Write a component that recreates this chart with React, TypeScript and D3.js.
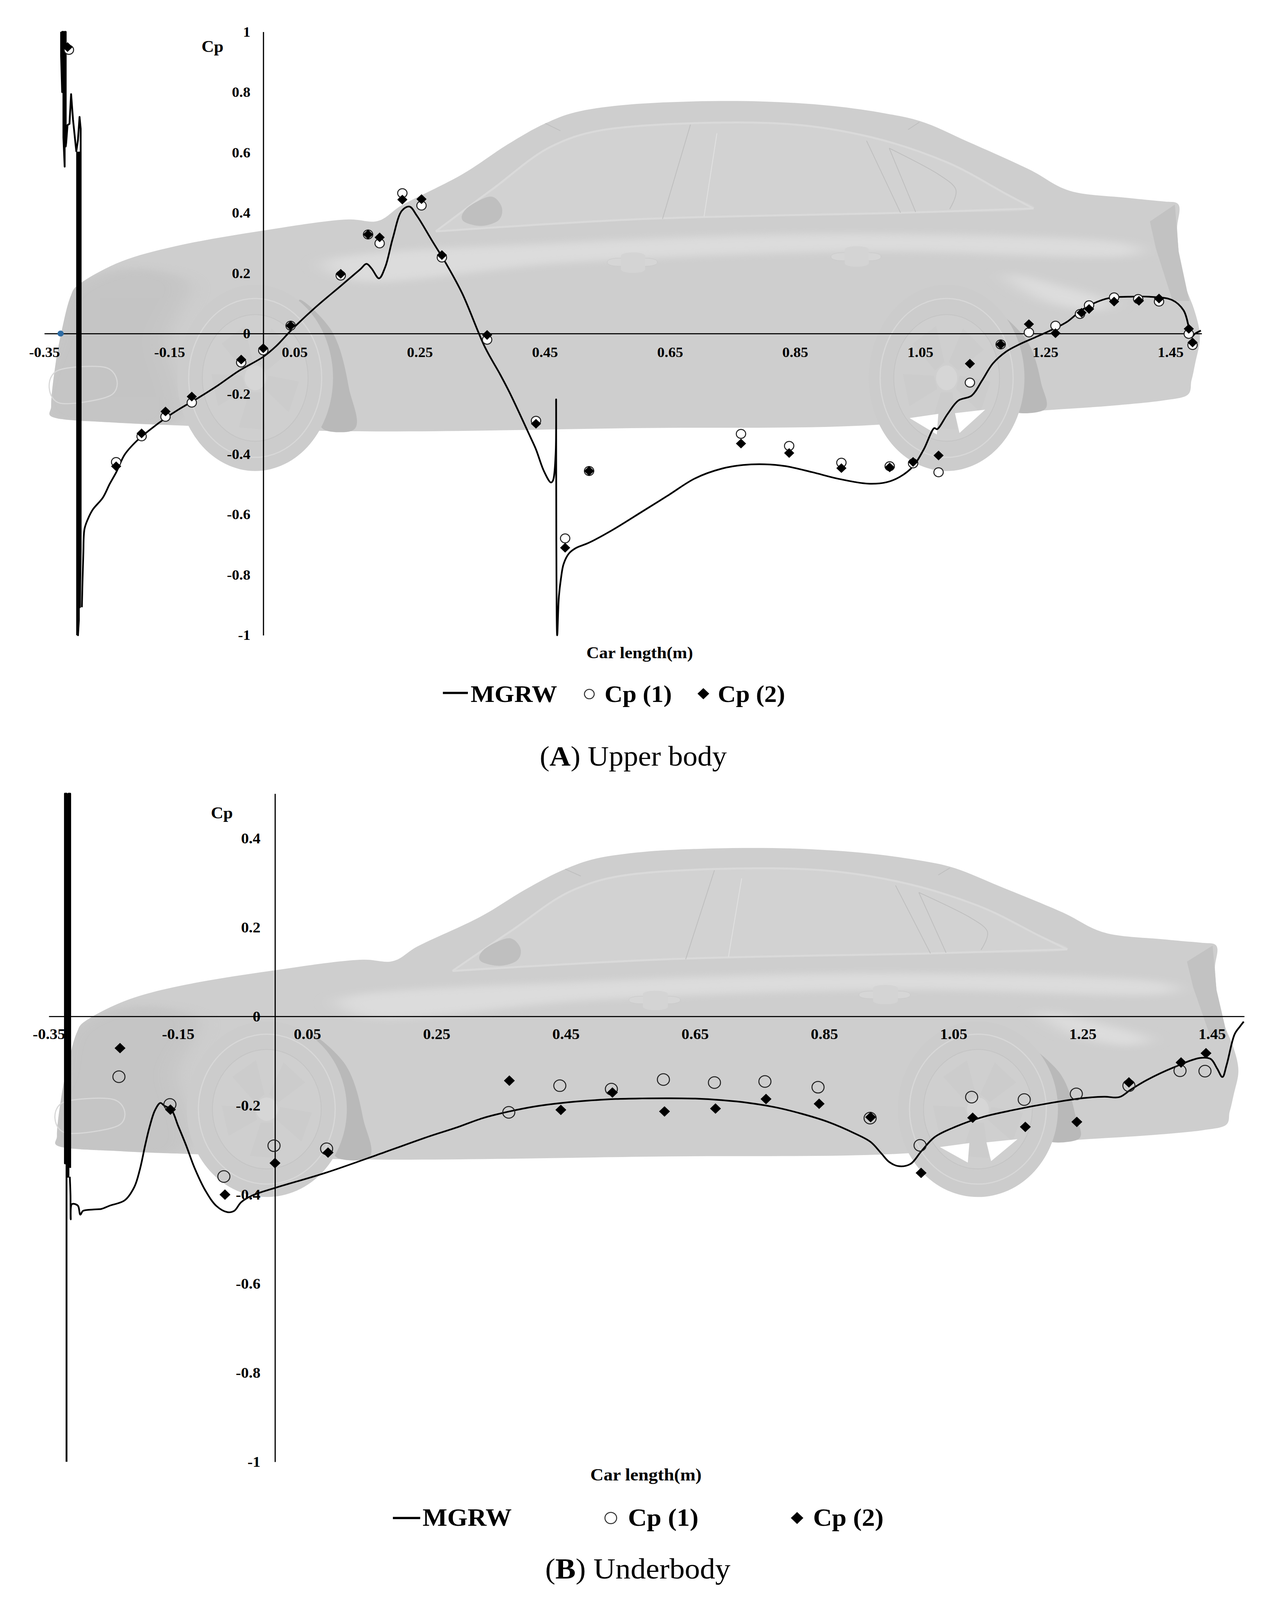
import React from 'react';
import * as d3 from 'd3';

type Pt = [number, number];

const xTicks = [-0.35, -0.15, 0.05, 0.25, 0.45, 0.65, 0.85, 1.05, 1.25, 1.45];
const yTicksA = [-1, -0.8, -0.6, -0.4, -0.2, 0, 0.2, 0.4, 0.6, 0.8, 1];
const yTicksB = [-1, -0.8, -0.6, -0.4, -0.2, 0, 0.2, 0.4];

// ---- upper body ----
// the solver output is a dense oscillation at the nose, it reads as solid bars
const noiseA: Pt[] = [
  [-0.3232, 1], [-0.3232, 0.92], [-0.3215, 0.8], [-0.3215, 1], [-0.3195, 1], [-0.3195, 0.65], [-0.3175, 0.553],
  [-0.3175, 1], [-0.3158, 1], [-0.3158, 0.62],
  [-0.3151, 0.6315], [-0.3129, 0.691], [-0.3098, 0.695], [-0.3072, 0.7936], [-0.3042, 0.71], [-0.2989, 0.604],
  [-0.2963, 0.64], [-0.2937, 0.718], [-0.2919, 0.679], [-0.2919, -0.72], [-0.2932, -0.907], [-0.2932, 0.6],
  [-0.2948, 0.6], [-0.2948, -0.95], [-0.2962, -1], [-0.2962, 0.6], [-0.2976, 0.6], [-0.2976, -1],
];
const mgrwA: Pt[] = [
  [-0.29, -0.907], [-0.2877, -0.732], [-0.2858, -0.648], [-0.2804, -0.615], [-0.2724, -0.583], [-0.2565, -0.544],
  [-0.2454, -0.498], [-0.2349, -0.459], [-0.2215, -0.401], [-0.2024, -0.356], [-0.1801, -0.317], [-0.1547, -0.278],
  [-0.1356, -0.252], [-0.1038, -0.213], [-0.0719, -0.171], [-0.0401, -0.125], [0, -0.077], [0.0204, -0.042],
  [0.0465, 0.015], [0.0827, 0.0856], [0.125, 0.16], [0.155, 0.213], [0.165, 0.231], [0.173, 0.216], [0.185, 0.183],
  [0.195, 0.221], [0.207, 0.316], [0.2215, 0.407], [0.2336, 0.421], [0.2457, 0.39], [0.2697, 0.308], [0.294, 0.2255],
  [0.318, 0.133], [0.3543, -0.045], [0.3785, -0.135], [0.3935, -0.1945], [0.4274, -0.345], [0.4359, -0.384],
  [0.4486, -0.456], [0.4597, -0.4936], [0.463, -0.4873], [0.4673, -0.4], [0.4681, -0.218], [0.4684, -0.677],
  [0.4698, -1], [0.4724, -0.875], [0.4758, -0.812], [0.48, -0.764], [0.4885, -0.729], [0.4995, -0.711],
  [0.5208, -0.693], [0.559, -0.65], [0.6057, -0.59], [0.6481, -0.535], [0.6906, -0.4795], [0.7331, -0.4476],
  [0.767, -0.4357], [0.8009, -0.4333], [0.835, -0.4396], [0.8775, -0.4595], [0.92, -0.4817], [0.9666, -0.4975],
  [0.9963, -0.4927], [1.0175, -0.475], [1.0388, -0.4398], [1.0557, -0.384], [1.0727, -0.3132], [1.0769, -0.317],
  [1.094, -0.266], [1.111, -0.222], [1.1321, -0.206], [1.1491, -0.155], [1.1661, -0.0995], [1.1873, -0.06],
  [1.2085, -0.036], [1.2339, -0.0125], [1.2594, 0.0113], [1.2849, 0.0389], [1.3061, 0.0745], [1.3273, 0.1],
  [1.3528, 0.118], [1.3823, 0.122], [1.4166, 0.122], [1.4528, 0.111], [1.471, 0.077], [1.4795, 0.02],
  [1.483, -0.013], [1.489, -0.001], [1.4987, 0.0099],
];
const cp1A: Pt[] = [
  [-0.3107, 0.94], [-0.2352, -0.4257], [-0.1945, -0.3407], [-0.1563, -0.2758], [-0.1143, -0.2291], [-0.0353, -0.096],
  [0, -0.0558], [0.0437, 0.026], [0.1238, 0.1922], [0.1675, 0.3283], [0.186, 0.299], [0.2223, 0.4653], [0.2529, 0.4241],
  [0.2855, 0.2519], [0.3578, -0.0204], [0.4359, -0.2892], [0.4825, -0.6787], [0.5208, -0.4555], [0.7636, -0.3325],
  [0.8406, -0.3722], [0.9241, -0.428], [1.0013, -0.4398], [1.0387, -0.4303], [1.0794, -0.4596], [1.1295, -0.1626],
  [1.1787, -0.036], [1.2238, 0.0037], [1.2663, 0.026], [1.3055, 0.065], [1.32, 0.0938], [1.36, 0.12], [1.3985, 0.1144],
  [1.4318, 0.106], [1.4794, -0.001], [1.4854, -0.038],
];
const cp2A: Pt[] = [
  [-0.3129, 0.9495], [-0.2352, -0.44], [-0.1945, -0.3309], [-0.1563, -0.2583], [-0.1143, -0.209], [-0.0353, -0.0863],
  [0, -0.0487], [0.0437, 0.026], [0.1238, 0.198], [0.1675, 0.3283], [0.186, 0.3188], [0.2223, 0.4439], [0.2529, 0.4455],
  [0.2855, 0.26], [0.3578, -0.0046], [0.4359, -0.299], [0.4825, -0.71], [0.5208, -0.4555], [0.7636, -0.3646],
  [0.8406, -0.396], [0.9241, -0.446], [1.0013, -0.4437], [1.0387, -0.4255], [1.0794, -0.404], [1.1295, -0.0998],
  [1.1787, -0.036], [1.2238, 0.0311], [1.2663, 0.0011], [1.308, 0.069], [1.32, 0.0815], [1.36, 0.106], [1.3997, 0.1086],
  [1.4318, 0.116], [1.4794, 0.0156], [1.4854, -0.0296],
];
const strayPointA: Pt[] = [[-0.324, 0]];

// ---- underbody ----
const noiseB: Pt[] = [
  [-0.3226, -1], [-0.3226, -0.33], [-0.3251, -0.33], [-0.3251, 0.5], [-0.3224, 0.5], [-0.3224, -0.36], [-0.3196, -0.36],
  [-0.3196, 0.5], [-0.3169, 0.5], [-0.3169, -0.34],
];
const mgrwB: Pt[] = [
  [-0.3175, -0.36], [-0.3165, -0.4], [-0.3161, -0.4558], [-0.3144, -0.4215], [-0.3089, -0.4215], [-0.3046, -0.4258],
  [-0.3012, -0.4451], [-0.297, -0.4365], [-0.2813, -0.4335], [-0.2686, -0.4322], [-0.2559, -0.425], [-0.2326, -0.413],
  [-0.2177, -0.383], [-0.2092, -0.3443], [-0.2008, -0.2886], [-0.1944, -0.25], [-0.1859, -0.2114], [-0.1774, -0.1943],
  [-0.1711, -0.2007], [-0.1605, -0.2093], [-0.1499, -0.2457], [-0.1372, -0.2907], [-0.1245, -0.34], [-0.1075, -0.3915],
  [-0.0905, -0.4258], [-0.0736, -0.4395], [-0.063, -0.4365], [-0.0524, -0.4172], [-0.0354, -0.4022], [0, -0.3851],
  [0.0791, -0.3508], [0.168, -0.3058], [0.2392, -0.2691], [0.2804, -0.2498], [0.3215, -0.2284], [0.3627, -0.2134],
  [0.4038, -0.2018], [0.445, -0.1941], [0.486, -0.189], [0.5272, -0.1855], [0.5682, -0.1842], [0.6093, -0.1838],
  [0.6505, -0.1846], [0.6915, -0.1881], [0.7326, -0.1941], [0.7739, -0.2039], [0.815, -0.2185], [0.8561, -0.237],
  [0.8972, -0.2627], [0.9218, -0.2819], [0.9384, -0.3077], [0.9506, -0.3269], [0.9654, -0.3363], [0.9835, -0.3313],
  [0.9999, -0.3034], [1.0206, -0.2712], [1.0534, -0.2476], [1.0945, -0.2262], [1.1438, -0.2099], [1.2014, -0.1941],
  [1.2508, -0.1834], [1.2836, -0.1804], [1.3067, -0.1812], [1.3248, -0.164], [1.3495, -0.1426], [1.3905, -0.1147],
  [1.4316, -0.0933], [1.448, -0.0955], [1.458, -0.117], [1.4662, -0.1362], [1.4728, -0.1084], [1.4851, -0.04],
  [1.4934, -0.0226], [1.4992, -0.0118],
];
const cp1B: Pt[] = [
  [-0.2415, -0.1355], [-0.1626, -0.1977], [-0.0791, -0.3594], [-0.0015, -0.2903], [0.0799, -0.2972], [0.3618, -0.2155],
  [0.4408, -0.1555], [0.5206, -0.1632], [0.6011, -0.1418], [0.6801, -0.1486], [0.7582, -0.1461], [0.8404, -0.159],
  [0.921, -0.2284], [0.9983, -0.2896], [1.0781, -0.1812], [1.1595, -0.1868], [1.2401, -0.1739], [1.3215, -0.1555],
  [1.4006, -0.122], [1.4392, -0.1229],
];
const cp2B: Pt[] = [
  [-0.2398, -0.0712], [-0.1618, -0.2093], [-0.0774, -0.4001], [0, -0.3293], [0.0821, -0.3057], [0.3627, -0.1443],
  [0.4424, -0.2099], [0.5222, -0.1709], [0.6028, -0.2134], [0.6817, -0.2069], [0.7599, -0.1855], [0.8421, -0.1962],
  [0.9218, -0.2262], [0.9999, -0.3514], [1.0797, -0.2275], [1.1612, -0.2481], [1.2409, -0.2369], [1.3215, -0.1482],
  [1.4022, -0.1035], [1.4408, -0.0826],
];

const SERIF = '"Liberation Serif", "Times New Roman", serif';
const fmt = (d: d3.NumberValue) => String(+(+d).toFixed(2));
const diamond = (h: number) => `M0,${-h}L${h},0L0,${h}L${-h},0Z`;

const smooth = d3.line<Pt>().curve(d3.curveCatmullRom.alpha(0.5));
const closed = d3.line<Pt>().curve(d3.curveCatmullRomClosed.alpha(0.5));
const straight = d3.line<Pt>();

// car silhouette, in its own drawing units, same picture behind both charts
const bodyOutline: Pt[] = [
  [18, 1318], [16, 1275], [22, 1100], [30, 970], [42, 830], [50, 790], [110, 690], [180, 630], [290, 570], [410, 522],
  [445, 530], [480, 465], [560, 340], [620, 220], [670, 135], [710, 90], [770, 62], [860, 47], [960, 47], [1050, 65],
  [1120, 95], [1165, 125], [1230, 210], [1310, 320], [1368, 410], [1440, 435], [1490, 450], [1505, 455], [1506, 560],
  [1510, 700], [1518, 800], [1528, 880], [1535, 960], [1536, 1010], [1530, 1100],
  [1525, 1170], [1518, 1232], [1490, 1250], [1420, 1272], [1325, 1292], [1090, 1352], [800, 1362], [412, 1375],
  [190, 1352], [100, 1340],
];

function Wheel({ cx, cutouts }: { cx: number; cutouts?: boolean }) {
  const cy = 1160;
  const spokes = [0, 72, 144, 216, 288];
  return (
    <g>
      <ellipse cx={cx} cy={cy} rx={103} ry={375} fill="#cccccc" />
      <ellipse cx={cx} cy={cy} rx={88} ry={320} fill="none" stroke="#d8d8d8" strokeWidth={3} vectorEffect="non-scaling-stroke" />
      <ellipse cx={cx} cy={cy} rx={70} ry={255} fill="#cfcfcf" stroke="#c4c4c4" strokeWidth={2} vectorEffect="non-scaling-stroke" />
      {spokes.map((a) => {
        const r = (d: number) => ((a + d) * Math.PI) / 180;
        const p = (rad: number, rr: number): Pt => [cx + Math.sin(rad) * rr * 58, cy - Math.cos(rad) * rr * 215];
        return (
          <path key={a} d={straight([p(r(10), 0.3), p(r(22), 1), p(r(58), 1), p(r(62), 0.3)]) + 'Z'}
            fill="#c8c8c8" opacity={0.45} />
        );
      })}
      {cutouts && (
        <>
          <path d={straight([[1152, 1322], [1190, 1305], [1188, 1388]]) + 'Z'} fill="#fff" />
          <path d={straight([[1212, 1302], [1252, 1288], [1218, 1382]]) + 'Z'} fill="#fff" />
        </>
      )}
      <ellipse cx={cx} cy={cy} rx={14} ry={50} fill="#d6d6d6" />
    </g>
  );
}

function Car({ tx, ty, sx, sy }: { tx: number; ty: number; sx: number; sy: number }) {
  const seam = { fill: 'none', stroke: '#bebebe', strokeWidth: 2, vectorEffect: 'non-scaling-stroke' } as const;
  const glow = { fill: 'none', stroke: '#dadada', strokeWidth: 5, vectorEffect: 'non-scaling-stroke' } as const;
  return (
    <g transform={`translate(${tx},${ty}) scale(${sx},${sy})`}>
      <path d={closed(bodyOutline) as string} fill="#cecece" />
      <g clipPath="url(#carBody)">
        {/* nose shading */}
        <path d={closed([[10, 1330], [15, 1000], [40, 800], [120, 720], [190, 760], [170, 1000], [170, 1350]]) as string} fill="#bcbcbc" opacity={0.5} filter="url(#soft)" />
        {/* shoulder and quarter highlights */}
        <path d={closed([[380, 690], [700, 615], [1100, 580], [1450, 625], [1450, 665], [1100, 650], [700, 695], [420, 770]]) as string} fill="#dcdcdc" filter="url(#soft)" />
        <path d={closed([[1280, 740], [1330, 850], [1400, 890], [1420, 860], [1340, 780]]) as string} fill="#dddddd" filter="url(#soft)" />
      </g>
      <path d={straight([[1470, 530], [1503, 462], [1508, 650], [1522, 850], [1500, 850], [1478, 640]]) + 'Z'} fill="#c2c2c2" />
      {/* glasshouse */}
      <path d={smooth([[530, 565], [600, 400], [680, 225], [740, 165], [860, 135], [1000, 140], [1100, 190], [1200, 290], [1280, 420], [1316, 478], [1140, 495], [800, 520], [530, 565]]) as string} fill="#d2d2d2" />
      <path d={smooth([[525, 570], [600, 400], [680, 225], [740, 165], [860, 135], [1000, 140], [1100, 190], [1200, 290], [1280, 420], [1316, 478]]) as string} {...glow} />
      <path d={smooth([[525, 570], [800, 520], [1140, 495], [1316, 478]]) as string} {...glow} />
      <path d={smooth([[670, 135], [690, 165]]) as string} {...seam} />
      <path d={smooth([[1165, 130], [1150, 160]]) as string} {...seam} />
      <path d={smooth([[862, 140], [825, 520]]) as string} {...seam} />
      <path d={smooth([[897, 175], [880, 510]]) as string} fill="none" stroke="#e2e2e2" strokeWidth={2} vectorEffect="non-scaling-stroke" />
      <path d={smooth([[1095, 205], [1140, 495]]) as string} {...seam} />
      <path d={smooth([[1125, 235], [1160, 492]]) as string} {...seam} />
      <path d={smooth([[1125, 235], [1190, 340], [1213, 400], [1205, 480]]) as string} {...seam} />
      {/* mirror */}
      <path d={closed([[598, 430], [612, 470], [606, 530], [585, 548], [562, 530], [565, 480]]) as string} fill="#bfbfbf" />
      {/* door handles */}
      <rect x={752} y={678} width={66} height={32} rx={14} fill="#d6d6d6" stroke="#c8c8c8" vectorEffect="non-scaling-stroke" />
      <rect x={770} y={655} width={32} height={82} rx={14} fill="#d4d4d4" />
      <rect x={1048} y={656} width={66} height={32} rx={14} fill="#d6d6d6" stroke="#c8c8c8" vectorEffect="non-scaling-stroke" />
      <rect x={1066} y={630} width={32} height={82} rx={14} fill="#d4d4d4" />
      {/* fog lamp surround */}
      <path d={closed([[25, 1130], [88, 1118], [95, 1230], [28, 1262]]) as string} fill="none" stroke="#d8d8d8" strokeWidth={3} vectorEffect="non-scaling-stroke" />
      {/* wheel arches */}
      <path d={closed([[345, 845], [385, 960], [410, 1200], [413, 1374], [380, 1372], [372, 1100]]) as string} fill="#b9b9b9" />
      <path d={closed([[1265, 890], [1305, 1000], [1326, 1180], [1328, 1292], [1295, 1300], [1290, 1100]]) as string} fill="#b9b9b9" />
      <Wheel cx={286} />
      <Wheel cx={1201} cutouts />
    </g>
  );
}

interface PanelProps {
  x: d3.ScaleLinear<number, number>;
  y: d3.ScaleLinear<number, number>;
  yTicks: number[];
  xPadding: number;
  yPadding: number;
  fontSize: number;
  noise: Pt[];
  mgrw: Pt[];
  cp1: Pt[];
  cp2: Pt[];
  circleR: number;
  diamondH: number;
  circleFill: string;
}

function Panel({ x, y, yTicks, xPadding, yPadding, fontSize, noise, mgrw, cp1, cp2, circleR, diamondH, circleFill }: PanelProps) {
  const axisStyle = (g: d3.Selection<SVGGElement, unknown, null, undefined>) => {
    g.attr('font-family', SERIF).attr('font-size', fontSize).attr('font-weight', 700);
    g.selectAll('text').attr('fill', '#000');
    g.select('.domain').attr('stroke', '#000').attr('stroke-width', 3);
  };
  const getXAxis = (ref: SVGGElement | null) => {
    if (!ref) return;
    const g = d3.select(ref);
    g.call(d3.axisBottom(x).tickValues(xTicks).tickSize(0).tickPadding(xPadding).tickFormat(fmt));
    axisStyle(g);
  };
  const getYAxis = (ref: SVGGElement | null) => {
    if (!ref) return;
    const g = d3.select(ref);
    g.call(d3.axisLeft(y).tickValues(yTicks).tickSize(0).tickPadding(yPadding).tickFormat(fmt));
    axisStyle(g);
  };
  const toPx = (p: Pt): Pt => [x(p[0]), y(p[1])];
  return (
    <g>
      <g transform={`translate(0,${y(0)})`} ref={getXAxis}></g>
      <g transform={`translate(${x(0)},0)`} ref={getYAxis}></g>
      <path d={straight(noise.map(toPx)) as string} fill="none" stroke="#000" strokeWidth={4.6} strokeLinejoin="round" />
      <path d={smooth(mgrw.map(toPx)) as string} fill="none" stroke="#000" strokeWidth={4.4} strokeLinejoin="round" />
      {cp1.map((p, i) => (
        <circle key={i} cx={x(p[0])} cy={y(p[1])} r={circleR} fill={circleFill} stroke="#222" strokeWidth={2.6} />
      ))}
      {cp2.map((p, i) => (
        <path key={i} transform={`translate(${x(p[0])},${y(p[1])})`} d={diamond(diamondH)} fill="#000" />
      ))}
    </g>
  );
}

export default function App() {
  const xA = d3.scaleLinear().domain([-0.35, 1.5]).range([113.5, 3077]);
  const yA = d3.scaleLinear().domain([-1, 1]).range([1697, 85]);
  const xB = d3.scaleLinear().domain([-0.35, 1.5]).range([125, 3186]);
  const yB = d3.scaleLinear().domain([-1, 0.5]).range([3905, 2120]);
  const bold = { fontFamily: SERIF, fontWeight: 700 } as const;

  return (
    <svg viewBox="0 0 3234 4274" preserveAspectRatio="none"
      style={{ position: 'fixed', left: 0, top: 0, width: '100vw', height: '100vh', background: '#fff' }}>
      <defs>
        <filter id="soft" x="-20%" y="-20%" width="140%" height="140%">
          <feGaussianBlur stdDeviation="14" />
        </filter>
        <clipPath id="carBody">
          <path d={closed(bodyOutline) as string} />
        </clipPath>
      </defs>

      <Car tx={100} ty={240} sx={1.935} sy={0.6633} />
      <Panel x={xA} y={yA} yTicks={yTicksA} xPadding={36} yPadding={33} fontSize={38}
        noise={noiseA} mgrw={mgrwA} cp1={cp1A} cp2={cp2A} circleR={12} diamondH={13} circleFill="#fff" />
      {strayPointA.map((p, i) => (
        <circle key={i} cx={xA(p[0])} cy={yA(p[1])} r={8} fill="#2e6ca4" />
      ))}
      <text x={516} y={139} fontSize={44} {...bold}>Cp</text>
      <text x={1638} y={1758} fontSize={45} textAnchor="middle" {...bold}>Car length(m)</text>
      <path d={`M1134,1851H1198`} stroke="#000" strokeWidth={6} />
      <text x={1205} y={1875} fontSize={65} {...bold}>MGRW</text>
      <circle cx={1509} cy={1854} r={12.5} fill="#fff" stroke="#333" strokeWidth={2.6} />
      <text x={1548} y={1875} fontSize={64} {...bold}>Cp (1)</text>
      <path transform="translate(1801,1853)" d={diamond(15)} fill="#000" />
      <text x={1838} y={1875} fontSize={64} {...bold}>Cp (2)</text>
      <text x={1382} y={2045} fontSize={75} fontFamily={SERIF}>(<tspan fontWeight={700}>A</tspan>) Upper body</text>

      <Car tx={114} ty={2237} sx={1.99} sy={0.6257} />
      <Panel x={xB} y={yB} yTicks={yTicksB} xPadding={32} yPadding={37} fontSize={40}
        noise={noiseB} mgrw={mgrwB} cp1={cp1B} cp2={cp2B} circleR={15.5} diamondH={14} circleFill="none" />
      <text x={540} y={2186} fontSize={44} {...bold}>Cp</text>
      <text x={1654} y={3955} fontSize={47} textAnchor="middle" {...bold}>Car length(m)</text>
      <path d={`M1006,4055H1076`} stroke="#000" strokeWidth={6} />
      <text x={1082} y={4076} fontSize={67} {...bold}>MGRW</text>
      <circle cx={1564} cy={4055} r={15} fill="#fff" stroke="#333" strokeWidth={2.6} />
      <text x={1608} y={4076} fontSize={67} {...bold}>Cp (1)</text>
      <path transform="translate(2041,4055)" d={diamond(16)} fill="#000" />
      <text x={2082} y={4076} fontSize={67} {...bold}>Cp (2)</text>
      <text x={1396} y={4217} fontSize={78} fontFamily={SERIF}>(<tspan fontWeight={700}>B</tspan>) Underbody</text>
    </svg>
  );
}
